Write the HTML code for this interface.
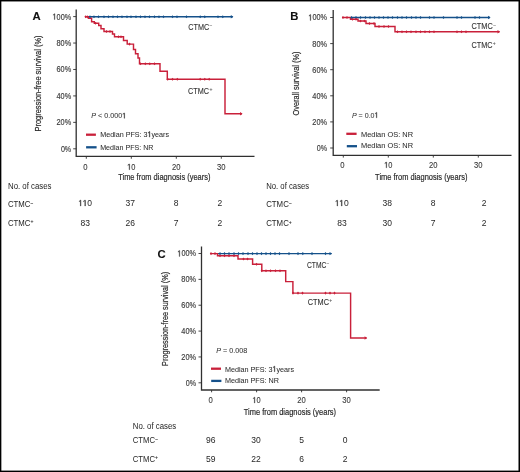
<!DOCTYPE html><html><head><meta charset="utf-8"><style>html,body{margin:0;padding:0;background:#fff;}svg{display:block;will-change:transform;}text{font-family:"Liberation Sans",sans-serif;}.o1{fill-opacity:0;stroke-opacity:0;}</style></head><body>
<svg width="520" height="472" viewBox="0 0 520 472">
<rect x="0" y="0" width="520" height="472" fill="#fff"/>
<text x="32.4" y="20.0" font-size="11.3" stroke-width="0.1" fill="#111" stroke="#111" font-weight="bold" >A</text>
<path d="M76.2,9.5 V156.45 H254.5" fill="none" stroke="#303030" stroke-width="1.3"/>
<line x1="73.2" y1="148.8" x2="76.2" y2="148.8" stroke="#303030" stroke-width="0.9"/>
<text x="71.2" y="151.7" font-size="8.4" stroke-width="0.15" textLength="10.3" lengthAdjust="spacingAndGlyphs" text-anchor="end" fill="#3a3a3a" stroke="#3a3a3a" >0%</text>
<line x1="73.2" y1="122.36000000000001" x2="76.2" y2="122.36000000000001" stroke="#303030" stroke-width="0.9"/>
<text x="71.2" y="125.26" font-size="8.4" stroke-width="0.15" textLength="14.7" lengthAdjust="spacingAndGlyphs" text-anchor="end" fill="#3a3a3a" stroke="#3a3a3a" >20%</text>
<line x1="73.2" y1="95.92" x2="76.2" y2="95.92" stroke="#303030" stroke-width="0.9"/>
<text x="71.2" y="98.82" font-size="8.4" stroke-width="0.15" textLength="14.7" lengthAdjust="spacingAndGlyphs" text-anchor="end" fill="#3a3a3a" stroke="#3a3a3a" >40%</text>
<line x1="73.2" y1="69.47999999999999" x2="76.2" y2="69.47999999999999" stroke="#303030" stroke-width="0.9"/>
<text x="71.2" y="72.38" font-size="8.4" stroke-width="0.15" textLength="14.7" lengthAdjust="spacingAndGlyphs" text-anchor="end" fill="#3a3a3a" stroke="#3a3a3a" >60%</text>
<line x1="73.2" y1="43.03999999999999" x2="76.2" y2="43.03999999999999" stroke="#303030" stroke-width="0.9"/>
<text x="71.2" y="45.94" font-size="8.4" stroke-width="0.15" textLength="14.7" lengthAdjust="spacingAndGlyphs" text-anchor="end" fill="#3a3a3a" stroke="#3a3a3a" >80%</text>
<line x1="73.2" y1="16.599999999999994" x2="76.2" y2="16.599999999999994" stroke="#303030" stroke-width="0.9"/>
<text x="71.2" y="19.5" font-size="8.4" stroke-width="0.15" textLength="18.7" lengthAdjust="spacingAndGlyphs" text-anchor="end" fill="#3a3a3a" stroke="#3a3a3a" ><tspan class="o1">1</tspan>00%</text>
<line x1="86.3" y1="156.45" x2="86.3" y2="158.75" stroke="#303030" stroke-width="0.9"/>
<text x="85.3" y="169.7" font-size="8.4" stroke-width="0.1" textLength="4.3" lengthAdjust="spacingAndGlyphs" text-anchor="middle" fill="#3a3a3a" stroke="#3a3a3a" >0</text>
<line x1="131.3" y1="156.45" x2="131.3" y2="158.75" stroke="#303030" stroke-width="0.9"/>
<text x="131.3" y="169.7" font-size="8.4" stroke-width="0.1" textLength="8.3" lengthAdjust="spacingAndGlyphs" text-anchor="middle" fill="#3a3a3a" stroke="#3a3a3a" ><tspan class="o1">1</tspan>0</text>
<line x1="176.3" y1="156.45" x2="176.3" y2="158.75" stroke="#303030" stroke-width="0.9"/>
<text x="176.3" y="169.7" font-size="8.4" stroke-width="0.1" textLength="8.5" lengthAdjust="spacingAndGlyphs" text-anchor="middle" fill="#3a3a3a" stroke="#3a3a3a" >20</text>
<line x1="221.3" y1="156.45" x2="221.3" y2="158.75" stroke="#303030" stroke-width="0.9"/>
<text x="221.3" y="169.7" font-size="8.4" stroke-width="0.1" textLength="8.5" lengthAdjust="spacingAndGlyphs" text-anchor="middle" fill="#3a3a3a" stroke="#3a3a3a" >30</text>
<text x="118.2" y="180.0" font-size="9.3" stroke-width="0.2" textLength="92.3" lengthAdjust="spacingAndGlyphs" fill="#2a2a2a" stroke="#2a2a2a" >Time from diagnosis (years)</text>
<text transform="translate(41.2,83.5) rotate(-90)" x="0" y="0" font-size="9.8" text-anchor="middle" textLength="96.0" lengthAdjust="spacingAndGlyphs" fill="#2a2a2a" stroke="#2a2a2a" stroke-width="0.2">Progression-free survival (%)</text>
<path d="M88,16.7 H232.8" fill="none" stroke="#15518a" stroke-width="1.4" stroke-linejoin="miter" stroke-linecap="butt"/>
<path d="M85,16.7 H88.4 V18.2 H91.6 V21.7 H94.3 V23.3 H98.7 V25.4 H101 V28.8 H104 V31.5 H112.5 V34 H114.5 V36.8 H123.5 V40.5 H127.2 V44.1 H133.5 V49.5 H135.5 V53.8 H138 V58 H139.5 V63.8 H160 V71.2 H167.3 V79.2 H225 V113.8 H242" fill="none" stroke="#c9203a" stroke-width="1.45" stroke-linejoin="miter" stroke-linecap="butt"/>
<path d="M230.80,15.00 L233.40,16.7 L230.80,18.40 Z" fill="#15518a"/>
<path d="M88.80,16.7 L90,15.15 L91.20,16.7 L90,18.25 Z" fill="#15518a"/>
<path d="M92.80,16.7 L94,15.15 L95.20,16.7 L94,18.25 Z" fill="#15518a"/>
<path d="M97.30,16.7 L98.5,15.15 L99.70,16.7 L98.5,18.25 Z" fill="#15518a"/>
<path d="M102.80,16.7 L104,15.15 L105.20,16.7 L104,18.25 Z" fill="#15518a"/>
<path d="M107.30,16.7 L108.5,15.15 L109.70,16.7 L108.5,18.25 Z" fill="#15518a"/>
<path d="M111.80,16.7 L113,15.15 L114.20,16.7 L113,18.25 Z" fill="#15518a"/>
<path d="M116.30,16.7 L117.5,15.15 L118.70,16.7 L117.5,18.25 Z" fill="#15518a"/>
<path d="M120.80,16.7 L122,15.15 L123.20,16.7 L122,18.25 Z" fill="#15518a"/>
<path d="M125.80,16.7 L127,15.15 L128.20,16.7 L127,18.25 Z" fill="#15518a"/>
<path d="M129.80,16.7 L131,15.15 L132.20,16.7 L131,18.25 Z" fill="#15518a"/>
<path d="M134.80,16.7 L136,15.15 L137.20,16.7 L136,18.25 Z" fill="#15518a"/>
<path d="M139.30,16.7 L140.5,15.15 L141.70,16.7 L140.5,18.25 Z" fill="#15518a"/>
<path d="M143.80,16.7 L145,15.15 L146.20,16.7 L145,18.25 Z" fill="#15518a"/>
<path d="M148.30,16.7 L149.5,15.15 L150.70,16.7 L149.5,18.25 Z" fill="#15518a"/>
<path d="M153.30,16.7 L154.5,15.15 L155.70,16.7 L154.5,18.25 Z" fill="#15518a"/>
<path d="M157.80,16.7 L159,15.15 L160.20,16.7 L159,18.25 Z" fill="#15518a"/>
<path d="M162.30,16.7 L163.5,15.15 L164.70,16.7 L163.5,18.25 Z" fill="#15518a"/>
<path d="M171.30,16.7 L172.5,15.15 L173.70,16.7 L172.5,18.25 Z" fill="#15518a"/>
<path d="M175.80,16.7 L177,15.15 L178.20,16.7 L177,18.25 Z" fill="#15518a"/>
<path d="M185.30,16.7 L186.5,15.15 L187.70,16.7 L186.5,18.25 Z" fill="#15518a"/>
<path d="M199.00,16.7 L200.2,15.15 L201.40,16.7 L200.2,18.25 Z" fill="#15518a"/>
<path d="M203.60,16.7 L204.8,15.15 L206.00,16.7 L204.8,18.25 Z" fill="#15518a"/>
<path d="M216.80,16.7 L218,15.15 L219.20,16.7 L218,18.25 Z" fill="#15518a"/>
<path d="M221.60,16.7 L222.8,15.15 L224.00,16.7 L222.8,18.25 Z" fill="#15518a"/>
<path d="M84.40,16.7 L85.6,15.15 L86.80,16.7 L85.6,18.25 Z" fill="#c9203a"/>
<path d="M86.10,16.7 L87.3,15.15 L88.50,16.7 L87.3,18.25 Z" fill="#c9203a"/>
<path d="M94.30,23.3 L95.5,21.75 L96.70,23.3 L95.5,24.85 Z" fill="#c9203a"/>
<path d="M105.30,31.5 L106.5,29.95 L107.70,31.5 L106.5,33.05 Z" fill="#c9203a"/>
<path d="M108.80,31.5 L110,29.95 L111.20,31.5 L110,33.05 Z" fill="#c9203a"/>
<path d="M117.30,36.8 L118.5,35.25 L119.70,36.8 L118.5,38.35 Z" fill="#c9203a"/>
<path d="M119.80,36.8 L121,35.25 L122.20,36.8 L121,38.35 Z" fill="#c9203a"/>
<path d="M128.30,44.1 L129.5,42.55 L130.70,44.1 L129.5,45.65 Z" fill="#c9203a"/>
<path d="M139.30,63.8 L140.5,62.25 L141.70,63.8 L140.5,65.35 Z" fill="#c9203a"/>
<path d="M144.10,63.8 L145.3,62.25 L146.50,63.8 L145.3,65.35 Z" fill="#c9203a"/>
<path d="M148.60,63.8 L149.8,62.25 L151.00,63.8 L149.8,65.35 Z" fill="#c9203a"/>
<path d="M153.30,63.8 L154.5,62.25 L155.70,63.8 L154.5,65.35 Z" fill="#c9203a"/>
<path d="M166.50,79.2 L167.7,77.65 L168.90,79.2 L167.7,80.75 Z" fill="#c9203a"/>
<path d="M171.30,79.2 L172.5,77.65 L173.70,79.2 L172.5,80.75 Z" fill="#c9203a"/>
<path d="M176.10,79.2 L177.3,77.65 L178.50,79.2 L177.3,80.75 Z" fill="#c9203a"/>
<path d="M199.00,79.2 L200.2,77.65 L201.40,79.2 L200.2,80.75 Z" fill="#c9203a"/>
<path d="M203.60,79.2 L204.8,77.65 L206.00,79.2 L204.8,80.75 Z" fill="#c9203a"/>
<path d="M208.00,79.2 L209.2,77.65 L210.40,79.2 L209.2,80.75 Z" fill="#c9203a"/>
<path d="M240.00,112.10 L242.60,113.8 L240.00,115.50 Z" fill="#c9203a"/>
<text x="188.3" y="30.0" font-size="8.3" stroke-width="0.1" textLength="21.0" lengthAdjust="spacingAndGlyphs" fill="#333" stroke="#333" >CTMC</text>
<text x="209.6" y="27.4" font-size="5.0" stroke-width="0.1" fill="#777" stroke="#777" >&#8722;</text>
<text x="188.0" y="94.0" font-size="8.3" stroke-width="0.1" textLength="21.0" lengthAdjust="spacingAndGlyphs" fill="#333" stroke="#333" >CTMC</text>
<text x="209.4" y="91.4" font-size="5.0" stroke-width="0.1" fill="#555" stroke="#555" >+</text>
<text x="91.2" y="118.3" font-size="7.8" stroke-width="0.05" textLength="35.0" lengthAdjust="spacingAndGlyphs" fill="#333" stroke="#333" ><tspan font-style="italic">P</tspan> &lt; 0.000<tspan class="o1">1</tspan></text>
<line x1="86.0" y1="134.7" x2="95.9" y2="134.7" stroke="#c9203a" stroke-width="2.3"/>
<line x1="86.1" y1="147.3" x2="96.6" y2="147.3" stroke="#15518a" stroke-width="2.3"/>
<text x="100.2" y="137.1" font-size="8.0" stroke-width="0.05" textLength="68.8" lengthAdjust="spacingAndGlyphs" fill="#2e2e2e" stroke="#2e2e2e" >Median PFS: 3<tspan class="o1">1</tspan>years</text>
<text x="100.2" y="149.7" font-size="8.0" stroke-width="0.05" textLength="53.3" lengthAdjust="spacingAndGlyphs" fill="#2e2e2e" stroke="#2e2e2e" >Median PFS: NR</text>
<text x="8.0" y="189.3" font-size="8.2" stroke-width="0.02" textLength="43.5" lengthAdjust="spacingAndGlyphs" fill="#2a2a2a" stroke="#2a2a2a" >No. of cases</text>
<text x="8.0" y="206.8" font-size="8.2" stroke-width="0.02" textLength="22.4" lengthAdjust="spacingAndGlyphs" fill="#2a2a2a" stroke="#2a2a2a" >CTMC</text>
<text x="30.6" y="204.6" font-size="5.0" stroke-width="0.1" fill="#222" stroke="#222" >&#8722;</text>
<text x="8.0" y="226.0" font-size="8.2" stroke-width="0.02" textLength="22.4" lengthAdjust="spacingAndGlyphs" fill="#2a2a2a" stroke="#2a2a2a" >CTMC</text>
<text x="30.4" y="223.4" font-size="5.0" stroke-width="0.1" fill="#222" stroke="#222" >+</text>
<text x="85.3" y="206.0" font-size="8.5" stroke-width="0.02" text-anchor="middle" fill="#2a2a2a" stroke="#2a2a2a" ><tspan class="o1">1</tspan><tspan class="o1">1</tspan>0</text>
<text x="85.3" y="225.5" font-size="8.5" stroke-width="0.02" text-anchor="middle" fill="#2a2a2a" stroke="#2a2a2a" >83</text>
<text x="130.3" y="206.0" font-size="8.5" stroke-width="0.02" text-anchor="middle" fill="#2a2a2a" stroke="#2a2a2a" >37</text>
<text x="130.3" y="225.5" font-size="8.5" stroke-width="0.02" text-anchor="middle" fill="#2a2a2a" stroke="#2a2a2a" >26</text>
<text x="176.0" y="206.0" font-size="8.5" stroke-width="0.02" text-anchor="middle" fill="#2a2a2a" stroke="#2a2a2a" >8</text>
<text x="176.0" y="225.5" font-size="8.5" stroke-width="0.02" text-anchor="middle" fill="#2a2a2a" stroke="#2a2a2a" >7</text>
<text x="219.9" y="206.0" font-size="8.5" stroke-width="0.02" text-anchor="middle" fill="#2a2a2a" stroke="#2a2a2a" >2</text>
<text x="219.9" y="225.5" font-size="8.5" stroke-width="0.02" text-anchor="middle" fill="#2a2a2a" stroke="#2a2a2a" >2</text>
<text x="290.3" y="19.5" font-size="11.3" stroke-width="0.1" fill="#111" stroke="#111" font-weight="bold" >B</text>
<path d="M333.2,10.0 V155.3 H511.5" fill="none" stroke="#303030" stroke-width="1.3"/>
<line x1="330.2" y1="148.0" x2="333.2" y2="148.0" stroke="#303030" stroke-width="0.9"/>
<text x="327.0" y="150.9" font-size="8.4" stroke-width="0.15" textLength="10.3" lengthAdjust="spacingAndGlyphs" text-anchor="end" fill="#3a3a3a" stroke="#3a3a3a" >0%</text>
<line x1="330.2" y1="121.9" x2="333.2" y2="121.9" stroke="#303030" stroke-width="0.9"/>
<text x="327.0" y="124.8" font-size="8.4" stroke-width="0.15" textLength="14.7" lengthAdjust="spacingAndGlyphs" text-anchor="end" fill="#3a3a3a" stroke="#3a3a3a" >20%</text>
<line x1="330.2" y1="95.8" x2="333.2" y2="95.8" stroke="#303030" stroke-width="0.9"/>
<text x="327.0" y="98.7" font-size="8.4" stroke-width="0.15" textLength="14.7" lengthAdjust="spacingAndGlyphs" text-anchor="end" fill="#3a3a3a" stroke="#3a3a3a" >40%</text>
<line x1="330.2" y1="69.69999999999999" x2="333.2" y2="69.69999999999999" stroke="#303030" stroke-width="0.9"/>
<text x="327.0" y="72.6" font-size="8.4" stroke-width="0.15" textLength="14.7" lengthAdjust="spacingAndGlyphs" text-anchor="end" fill="#3a3a3a" stroke="#3a3a3a" >60%</text>
<line x1="330.2" y1="43.599999999999994" x2="333.2" y2="43.599999999999994" stroke="#303030" stroke-width="0.9"/>
<text x="327.0" y="46.5" font-size="8.4" stroke-width="0.15" textLength="14.7" lengthAdjust="spacingAndGlyphs" text-anchor="end" fill="#3a3a3a" stroke="#3a3a3a" >80%</text>
<line x1="330.2" y1="17.5" x2="333.2" y2="17.5" stroke="#303030" stroke-width="0.9"/>
<text x="327.0" y="20.4" font-size="8.4" stroke-width="0.15" textLength="18.7" lengthAdjust="spacingAndGlyphs" text-anchor="end" fill="#3a3a3a" stroke="#3a3a3a" ><tspan class="o1">1</tspan>00%</text>
<line x1="343.3" y1="155.3" x2="343.3" y2="157.60000000000002" stroke="#303030" stroke-width="0.9"/>
<text x="342.3" y="167.8" font-size="8.4" stroke-width="0.1" textLength="4.3" lengthAdjust="spacingAndGlyphs" text-anchor="middle" fill="#3a3a3a" stroke="#3a3a3a" >0</text>
<line x1="388.3" y1="155.3" x2="388.3" y2="157.60000000000002" stroke="#303030" stroke-width="0.9"/>
<text x="388.3" y="167.8" font-size="8.4" stroke-width="0.1" textLength="8.3" lengthAdjust="spacingAndGlyphs" text-anchor="middle" fill="#3a3a3a" stroke="#3a3a3a" ><tspan class="o1">1</tspan>0</text>
<line x1="433.3" y1="155.3" x2="433.3" y2="157.60000000000002" stroke="#303030" stroke-width="0.9"/>
<text x="433.3" y="167.8" font-size="8.4" stroke-width="0.1" textLength="8.5" lengthAdjust="spacingAndGlyphs" text-anchor="middle" fill="#3a3a3a" stroke="#3a3a3a" >20</text>
<line x1="478.3" y1="155.3" x2="478.3" y2="157.60000000000002" stroke="#303030" stroke-width="0.9"/>
<text x="478.3" y="167.8" font-size="8.4" stroke-width="0.1" textLength="8.5" lengthAdjust="spacingAndGlyphs" text-anchor="middle" fill="#3a3a3a" stroke="#3a3a3a" >30</text>
<text x="375.1" y="180.3" font-size="9.3" stroke-width="0.2" textLength="92.3" lengthAdjust="spacingAndGlyphs" fill="#2a2a2a" stroke="#2a2a2a" >Time from diagnosis (years)</text>
<text transform="translate(298.7,83.5) rotate(-90)" x="0" y="0" font-size="9.8" text-anchor="middle" textLength="64.0" lengthAdjust="spacingAndGlyphs" fill="#2a2a2a" stroke="#2a2a2a" stroke-width="0.2">Overall survival (%)</text>
<path d="M351,17.5 H490" fill="none" stroke="#15518a" stroke-width="1.4" stroke-linejoin="miter" stroke-linecap="butt"/>
<path d="M342,17.5 H350.5 V19.2 H358 V21 H366 V23.5 H375 V26.5 H395 V31.7 H499.5" fill="none" stroke="#c9203a" stroke-width="1.45" stroke-linejoin="miter" stroke-linecap="butt"/>
<path d="M488.00,15.80 L490.60,17.5 L488.00,19.20 Z" fill="#15518a"/>
<path d="M350.30,17.5 L351.5,15.95 L352.70,17.5 L351.5,19.05 Z" fill="#15518a"/>
<path d="M354.80,17.5 L356,15.95 L357.20,17.5 L356,19.05 Z" fill="#15518a"/>
<path d="M359.30,17.5 L360.5,15.95 L361.70,17.5 L360.5,19.05 Z" fill="#15518a"/>
<path d="M364.30,17.5 L365.5,15.95 L366.70,17.5 L365.5,19.05 Z" fill="#15518a"/>
<path d="M368.80,17.5 L370,15.95 L371.20,17.5 L370,19.05 Z" fill="#15518a"/>
<path d="M373.30,17.5 L374.5,15.95 L375.70,17.5 L374.5,19.05 Z" fill="#15518a"/>
<path d="M377.80,17.5 L379,15.95 L380.20,17.5 L379,19.05 Z" fill="#15518a"/>
<path d="M382.30,17.5 L383.5,15.95 L384.70,17.5 L383.5,19.05 Z" fill="#15518a"/>
<path d="M386.80,17.5 L388,15.95 L389.20,17.5 L388,19.05 Z" fill="#15518a"/>
<path d="M391.30,17.5 L392.5,15.95 L393.70,17.5 L392.5,19.05 Z" fill="#15518a"/>
<path d="M396.30,17.5 L397.5,15.95 L398.70,17.5 L397.5,19.05 Z" fill="#15518a"/>
<path d="M400.80,17.5 L402,15.95 L403.20,17.5 L402,19.05 Z" fill="#15518a"/>
<path d="M405.30,17.5 L406.5,15.95 L407.70,17.5 L406.5,19.05 Z" fill="#15518a"/>
<path d="M410.30,17.5 L411.5,15.95 L412.70,17.5 L411.5,19.05 Z" fill="#15518a"/>
<path d="M414.80,17.5 L416,15.95 L417.20,17.5 L416,19.05 Z" fill="#15518a"/>
<path d="M419.30,17.5 L420.5,15.95 L421.70,17.5 L420.5,19.05 Z" fill="#15518a"/>
<path d="M428.30,17.5 L429.5,15.95 L430.70,17.5 L429.5,19.05 Z" fill="#15518a"/>
<path d="M432.80,17.5 L434,15.95 L435.20,17.5 L434,19.05 Z" fill="#15518a"/>
<path d="M442.30,17.5 L443.5,15.95 L444.70,17.5 L443.5,19.05 Z" fill="#15518a"/>
<path d="M455.80,17.5 L457,15.95 L458.20,17.5 L457,19.05 Z" fill="#15518a"/>
<path d="M460.30,17.5 L461.5,15.95 L462.70,17.5 L461.5,19.05 Z" fill="#15518a"/>
<path d="M473.80,17.5 L475,15.95 L476.20,17.5 L475,19.05 Z" fill="#15518a"/>
<path d="M478.30,17.5 L479.5,15.95 L480.70,17.5 L479.5,19.05 Z" fill="#15518a"/>
<path d="M341.80,17.5 L343,15.95 L344.20,17.5 L343,19.05 Z" fill="#c9203a"/>
<path d="M345.80,17.5 L347,15.95 L348.20,17.5 L347,19.05 Z" fill="#c9203a"/>
<path d="M351.30,19.2 L352.5,17.65 L353.70,19.2 L352.5,20.75 Z" fill="#c9203a"/>
<path d="M354.80,19.2 L356,17.65 L357.20,19.2 L356,20.75 Z" fill="#c9203a"/>
<path d="M359.30,21 L360.5,19.45 L361.70,21 L360.5,22.55 Z" fill="#c9203a"/>
<path d="M363.30,21 L364.5,19.45 L365.70,21 L364.5,22.55 Z" fill="#c9203a"/>
<path d="M368.30,23.5 L369.5,21.95 L370.70,23.5 L369.5,25.05 Z" fill="#c9203a"/>
<path d="M372.80,23.5 L374,21.95 L375.20,23.5 L374,25.05 Z" fill="#c9203a"/>
<path d="M377.80,26.5 L379,24.95 L380.20,26.5 L379,28.05 Z" fill="#c9203a"/>
<path d="M382.80,26.5 L384,24.95 L385.20,26.5 L384,28.05 Z" fill="#c9203a"/>
<path d="M387.30,26.5 L388.5,24.95 L389.70,26.5 L388.5,28.05 Z" fill="#c9203a"/>
<path d="M396.30,31.7 L397.5,30.15 L398.70,31.7 L397.5,33.25 Z" fill="#c9203a"/>
<path d="M400.80,31.7 L402,30.15 L403.20,31.7 L402,33.25 Z" fill="#c9203a"/>
<path d="M405.30,31.7 L406.5,30.15 L407.70,31.7 L406.5,33.25 Z" fill="#c9203a"/>
<path d="M409.80,31.7 L411,30.15 L412.20,31.7 L411,33.25 Z" fill="#c9203a"/>
<path d="M414.80,31.7 L416,30.15 L417.20,31.7 L416,33.25 Z" fill="#c9203a"/>
<path d="M419.30,31.7 L420.5,30.15 L421.70,31.7 L420.5,33.25 Z" fill="#c9203a"/>
<path d="M423.80,31.7 L425,30.15 L426.20,31.7 L425,33.25 Z" fill="#c9203a"/>
<path d="M428.30,31.7 L429.5,30.15 L430.70,31.7 L429.5,33.25 Z" fill="#c9203a"/>
<path d="M432.80,31.7 L434,30.15 L435.20,31.7 L434,33.25 Z" fill="#c9203a"/>
<path d="M455.80,31.7 L457,30.15 L458.20,31.7 L457,33.25 Z" fill="#c9203a"/>
<path d="M460.30,31.7 L461.5,30.15 L462.70,31.7 L461.5,33.25 Z" fill="#c9203a"/>
<path d="M464.80,31.7 L466,30.15 L467.20,31.7 L466,33.25 Z" fill="#c9203a"/>
<path d="M497.50,30.00 L500.10,31.7 L497.50,33.40 Z" fill="#c9203a"/>
<text x="471.5" y="29.2" font-size="8.3" stroke-width="0.1" textLength="21.3" lengthAdjust="spacingAndGlyphs" fill="#333" stroke="#333" >CTMC</text>
<text x="493.2" y="26.6" font-size="5.0" stroke-width="0.1" fill="#777" stroke="#777" >&#8722;</text>
<text x="471.5" y="48.0" font-size="8.3" stroke-width="0.1" textLength="21.0" lengthAdjust="spacingAndGlyphs" fill="#333" stroke="#333" >CTMC</text>
<text x="492.8" y="45.4" font-size="5.0" stroke-width="0.1" fill="#555" stroke="#555" >+</text>
<text x="351.9" y="117.8" font-size="7.8" stroke-width="0.05" textLength="26.6" lengthAdjust="spacingAndGlyphs" fill="#333" stroke="#333" ><tspan font-style="italic">P</tspan> = 0.0<tspan class="o1">1</tspan></text>
<line x1="346.3" y1="133.8" x2="356.6" y2="133.8" stroke="#c9203a" stroke-width="2.3"/>
<line x1="346.8" y1="146.2" x2="357.0" y2="146.2" stroke="#15518a" stroke-width="2.3"/>
<text x="361.0" y="136.7" font-size="8.0" stroke-width="0.05" textLength="52.0" lengthAdjust="spacingAndGlyphs" fill="#2e2e2e" stroke="#2e2e2e" >Median OS: NR</text>
<text x="361.0" y="148.3" font-size="8.0" stroke-width="0.05" textLength="52.0" lengthAdjust="spacingAndGlyphs" fill="#2e2e2e" stroke="#2e2e2e" >Median OS: NR</text>
<text x="266.2" y="189.3" font-size="8.2" stroke-width="0.02" textLength="43.0" lengthAdjust="spacingAndGlyphs" fill="#2a2a2a" stroke="#2a2a2a" >No. of cases</text>
<text x="266.2" y="207.0" font-size="8.2" stroke-width="0.02" textLength="22.6" lengthAdjust="spacingAndGlyphs" fill="#2a2a2a" stroke="#2a2a2a" >CTMC</text>
<text x="289.0" y="204.8" font-size="5.0" stroke-width="0.1" fill="#222" stroke="#222" >&#8722;</text>
<text x="266.2" y="226.2" font-size="8.2" stroke-width="0.02" textLength="22.6" lengthAdjust="spacingAndGlyphs" fill="#2a2a2a" stroke="#2a2a2a" >CTMC</text>
<text x="288.8" y="223.6" font-size="5.0" stroke-width="0.1" fill="#222" stroke="#222" >+</text>
<text x="341.9" y="206.0" font-size="8.5" stroke-width="0.02" text-anchor="middle" fill="#2a2a2a" stroke="#2a2a2a" ><tspan class="o1">1</tspan><tspan class="o1">1</tspan>0</text>
<text x="341.9" y="225.5" font-size="8.5" stroke-width="0.02" text-anchor="middle" fill="#2a2a2a" stroke="#2a2a2a" >83</text>
<text x="387.3" y="206.0" font-size="8.5" stroke-width="0.02" text-anchor="middle" fill="#2a2a2a" stroke="#2a2a2a" >38</text>
<text x="387.3" y="225.5" font-size="8.5" stroke-width="0.02" text-anchor="middle" fill="#2a2a2a" stroke="#2a2a2a" >30</text>
<text x="433.0" y="206.0" font-size="8.5" stroke-width="0.02" text-anchor="middle" fill="#2a2a2a" stroke="#2a2a2a" >8</text>
<text x="433.0" y="225.5" font-size="8.5" stroke-width="0.02" text-anchor="middle" fill="#2a2a2a" stroke="#2a2a2a" >7</text>
<text x="484.0" y="206.0" font-size="8.5" stroke-width="0.02" text-anchor="middle" fill="#2a2a2a" stroke="#2a2a2a" >2</text>
<text x="484.0" y="225.5" font-size="8.5" stroke-width="0.02" text-anchor="middle" fill="#2a2a2a" stroke="#2a2a2a" >2</text>
<text x="157.6" y="258.0" font-size="11.3" stroke-width="0.1" fill="#111" stroke="#111" font-weight="bold" >C</text>
<path d="M201.5,246.5 V390.0 H379.7" fill="none" stroke="#303030" stroke-width="1.3"/>
<line x1="198.5" y1="382.8" x2="201.5" y2="382.8" stroke="#303030" stroke-width="0.9"/>
<text x="196.0" y="385.7" font-size="8.4" stroke-width="0.15" textLength="10.3" lengthAdjust="spacingAndGlyphs" text-anchor="end" fill="#3a3a3a" stroke="#3a3a3a" >0%</text>
<line x1="198.5" y1="356.94" x2="201.5" y2="356.94" stroke="#303030" stroke-width="0.9"/>
<text x="196.0" y="359.84" font-size="8.4" stroke-width="0.15" textLength="14.7" lengthAdjust="spacingAndGlyphs" text-anchor="end" fill="#3a3a3a" stroke="#3a3a3a" >20%</text>
<line x1="198.5" y1="331.08" x2="201.5" y2="331.08" stroke="#303030" stroke-width="0.9"/>
<text x="196.0" y="333.98" font-size="8.4" stroke-width="0.15" textLength="14.7" lengthAdjust="spacingAndGlyphs" text-anchor="end" fill="#3a3a3a" stroke="#3a3a3a" >40%</text>
<line x1="198.5" y1="305.22" x2="201.5" y2="305.22" stroke="#303030" stroke-width="0.9"/>
<text x="196.0" y="308.12" font-size="8.4" stroke-width="0.15" textLength="14.7" lengthAdjust="spacingAndGlyphs" text-anchor="end" fill="#3a3a3a" stroke="#3a3a3a" >60%</text>
<line x1="198.5" y1="279.36" x2="201.5" y2="279.36" stroke="#303030" stroke-width="0.9"/>
<text x="196.0" y="282.26" font-size="8.4" stroke-width="0.15" textLength="14.7" lengthAdjust="spacingAndGlyphs" text-anchor="end" fill="#3a3a3a" stroke="#3a3a3a" >80%</text>
<line x1="198.5" y1="253.5" x2="201.5" y2="253.5" stroke="#303030" stroke-width="0.9"/>
<text x="196.0" y="256.4" font-size="8.4" stroke-width="0.15" textLength="18.7" lengthAdjust="spacingAndGlyphs" text-anchor="end" fill="#3a3a3a" stroke="#3a3a3a" ><tspan class="o1">1</tspan>00%</text>
<line x1="211.6" y1="390.0" x2="211.6" y2="392.3" stroke="#303030" stroke-width="0.9"/>
<text x="210.6" y="403.0" font-size="8.4" stroke-width="0.1" textLength="4.3" lengthAdjust="spacingAndGlyphs" text-anchor="middle" fill="#3a3a3a" stroke="#3a3a3a" >0</text>
<line x1="256.6" y1="390.0" x2="256.6" y2="392.3" stroke="#303030" stroke-width="0.9"/>
<text x="256.6" y="403.0" font-size="8.4" stroke-width="0.1" textLength="8.3" lengthAdjust="spacingAndGlyphs" text-anchor="middle" fill="#3a3a3a" stroke="#3a3a3a" ><tspan class="o1">1</tspan>0</text>
<line x1="301.6" y1="390.0" x2="301.6" y2="392.3" stroke="#303030" stroke-width="0.9"/>
<text x="301.6" y="403.0" font-size="8.4" stroke-width="0.1" textLength="8.5" lengthAdjust="spacingAndGlyphs" text-anchor="middle" fill="#3a3a3a" stroke="#3a3a3a" >20</text>
<line x1="346.6" y1="390.0" x2="346.6" y2="392.3" stroke="#303030" stroke-width="0.9"/>
<text x="346.6" y="403.0" font-size="8.4" stroke-width="0.1" textLength="8.5" lengthAdjust="spacingAndGlyphs" text-anchor="middle" fill="#3a3a3a" stroke="#3a3a3a" >30</text>
<text x="243.8" y="415.0" font-size="9.3" stroke-width="0.2" textLength="92.3" lengthAdjust="spacingAndGlyphs" fill="#2a2a2a" stroke="#2a2a2a" >Time from diagnosis (years)</text>
<text transform="translate(168.2,318.9) rotate(-90)" x="0" y="0" font-size="9.8" text-anchor="middle" textLength="94.0" lengthAdjust="spacingAndGlyphs" fill="#2a2a2a" stroke="#2a2a2a" stroke-width="0.2">Progression-free survival (%)</text>
<path d="M218,253.6 H331.5" fill="none" stroke="#15518a" stroke-width="1.4" stroke-linejoin="miter" stroke-linecap="butt"/>
<path d="M210.5,253.6 H217.5 V255.8 H238 V259 H252.6 V264.2 H261.8 V270.8 H285.7 V281.6 H292.9 V293.1 H350.6 V338 H366.6" fill="none" stroke="#c9203a" stroke-width="1.45" stroke-linejoin="miter" stroke-linecap="butt"/>
<path d="M329.50,251.90 L332.10,253.6 L329.50,255.30 Z" fill="#15518a"/>
<path d="M218.80,253.6 L220,252.05 L221.20,253.6 L220,255.15 Z" fill="#15518a"/>
<path d="M223.30,253.6 L224.5,252.05 L225.70,253.6 L224.5,255.15 Z" fill="#15518a"/>
<path d="M227.80,253.6 L229,252.05 L230.20,253.6 L229,255.15 Z" fill="#15518a"/>
<path d="M232.80,253.6 L234,252.05 L235.20,253.6 L234,255.15 Z" fill="#15518a"/>
<path d="M237.30,253.6 L238.5,252.05 L239.70,253.6 L238.5,255.15 Z" fill="#15518a"/>
<path d="M241.80,253.6 L243,252.05 L244.20,253.6 L243,255.15 Z" fill="#15518a"/>
<path d="M246.80,253.6 L248,252.05 L249.20,253.6 L248,255.15 Z" fill="#15518a"/>
<path d="M251.30,253.6 L252.5,252.05 L253.70,253.6 L252.5,255.15 Z" fill="#15518a"/>
<path d="M255.80,253.6 L257,252.05 L258.20,253.6 L257,255.15 Z" fill="#15518a"/>
<path d="M260.30,253.6 L261.5,252.05 L262.70,253.6 L261.5,255.15 Z" fill="#15518a"/>
<path d="M264.80,253.6 L266,252.05 L267.20,253.6 L266,255.15 Z" fill="#15518a"/>
<path d="M269.30,253.6 L270.5,252.05 L271.70,253.6 L270.5,255.15 Z" fill="#15518a"/>
<path d="M273.80,253.6 L275,252.05 L276.20,253.6 L275,255.15 Z" fill="#15518a"/>
<path d="M278.30,253.6 L279.5,252.05 L280.70,253.6 L279.5,255.15 Z" fill="#15518a"/>
<path d="M287.80,253.6 L289,252.05 L290.20,253.6 L289,255.15 Z" fill="#15518a"/>
<path d="M296.80,253.6 L298,252.05 L299.20,253.6 L298,255.15 Z" fill="#15518a"/>
<path d="M301.60,253.6 L302.8,252.05 L304.00,253.6 L302.8,255.15 Z" fill="#15518a"/>
<path d="M310.80,253.6 L312,252.05 L313.20,253.6 L312,255.15 Z" fill="#15518a"/>
<path d="M324.30,253.6 L325.5,252.05 L326.70,253.6 L325.5,255.15 Z" fill="#15518a"/>
<path d="M209.80,253.6 L211,252.05 L212.20,253.6 L211,255.15 Z" fill="#c9203a"/>
<path d="M213.80,253.6 L215,252.05 L216.20,253.6 L215,255.15 Z" fill="#c9203a"/>
<path d="M218.80,255.8 L220,254.25 L221.20,255.8 L220,257.35 Z" fill="#c9203a"/>
<path d="M223.30,255.8 L224.5,254.25 L225.70,255.8 L224.5,257.35 Z" fill="#c9203a"/>
<path d="M227.80,255.8 L229,254.25 L230.20,255.8 L229,257.35 Z" fill="#c9203a"/>
<path d="M232.80,255.8 L234,254.25 L235.20,255.8 L234,257.35 Z" fill="#c9203a"/>
<path d="M242.30,259 L243.5,257.45 L244.70,259 L243.5,260.55 Z" fill="#c9203a"/>
<path d="M246.30,259 L247.5,257.45 L248.70,259 L247.5,260.55 Z" fill="#c9203a"/>
<path d="M255.30,264.2 L256.5,262.65 L257.70,264.2 L256.5,265.75 Z" fill="#c9203a"/>
<path d="M260.60,270.8 L261.8,269.25 L263.00,270.8 L261.8,272.35 Z" fill="#c9203a"/>
<path d="M264.80,270.8 L266,269.25 L267.20,270.8 L266,272.35 Z" fill="#c9203a"/>
<path d="M269.30,270.8 L270.5,269.25 L271.70,270.8 L270.5,272.35 Z" fill="#c9203a"/>
<path d="M274.30,270.8 L275.5,269.25 L276.70,270.8 L275.5,272.35 Z" fill="#c9203a"/>
<path d="M278.80,270.8 L280,269.25 L281.20,270.8 L280,272.35 Z" fill="#c9203a"/>
<path d="M291.80,293.1 L293,291.55 L294.20,293.1 L293,294.65 Z" fill="#c9203a"/>
<path d="M296.80,293.1 L298,291.55 L299.20,293.1 L298,294.65 Z" fill="#c9203a"/>
<path d="M301.30,293.1 L302.5,291.55 L303.70,293.1 L302.5,294.65 Z" fill="#c9203a"/>
<path d="M324.30,293.1 L325.5,291.55 L326.70,293.1 L325.5,294.65 Z" fill="#c9203a"/>
<path d="M328.80,293.1 L330,291.55 L331.20,293.1 L330,294.65 Z" fill="#c9203a"/>
<path d="M333.30,293.1 L334.5,291.55 L335.70,293.1 L334.5,294.65 Z" fill="#c9203a"/>
<path d="M364.60,336.30 L367.20,338 L364.60,339.70 Z" fill="#c9203a"/>
<text x="307.0" y="267.5" font-size="8.3" stroke-width="0.1" textLength="19.3" lengthAdjust="spacingAndGlyphs" fill="#333" stroke="#333" >CTMC</text>
<text x="326.4" y="264.9" font-size="5.0" stroke-width="0.1" fill="#777" stroke="#777" >&#8722;</text>
<text x="307.8" y="304.5" font-size="8.3" stroke-width="0.1" textLength="21.2" lengthAdjust="spacingAndGlyphs" fill="#333" stroke="#333" >CTMC</text>
<text x="329.2" y="301.9" font-size="5.0" stroke-width="0.1" fill="#555" stroke="#555" >+</text>
<text x="216.2" y="353.2" font-size="7.8" stroke-width="0.05" textLength="31.2" lengthAdjust="spacingAndGlyphs" fill="#333" stroke="#333" ><tspan font-style="italic">P</tspan> = 0.008</text>
<line x1="211.0" y1="368.7" x2="221.0" y2="368.7" stroke="#c9203a" stroke-width="2.3"/>
<line x1="211.2" y1="380.9" x2="221.4" y2="380.9" stroke="#15518a" stroke-width="2.3"/>
<text x="224.9" y="371.7" font-size="8.0" stroke-width="0.05" textLength="69.2" lengthAdjust="spacingAndGlyphs" fill="#2e2e2e" stroke="#2e2e2e" >Median PFS: 3<tspan class="o1">1</tspan>years</text>
<text x="224.9" y="383.4" font-size="8.0" stroke-width="0.05" textLength="54.1" lengthAdjust="spacingAndGlyphs" fill="#2e2e2e" stroke="#2e2e2e" >Median PFS: NR</text>
<text x="132.8" y="428.6" font-size="8.2" stroke-width="0.02" textLength="43.4" lengthAdjust="spacingAndGlyphs" fill="#2a2a2a" stroke="#2a2a2a" >No. of cases</text>
<text x="132.8" y="443.0" font-size="8.2" stroke-width="0.02" textLength="22.2" lengthAdjust="spacingAndGlyphs" fill="#2a2a2a" stroke="#2a2a2a" >CTMC</text>
<text x="155.3" y="440.8" font-size="5.0" stroke-width="0.1" fill="#222" stroke="#222" >&#8722;</text>
<text x="132.8" y="462.0" font-size="8.2" stroke-width="0.02" textLength="22.2" lengthAdjust="spacingAndGlyphs" fill="#2a2a2a" stroke="#2a2a2a" >CTMC</text>
<text x="155.1" y="459.4" font-size="5.0" stroke-width="0.1" fill="#222" stroke="#222" >+</text>
<text x="210.75" y="443.0" font-size="8.5" stroke-width="0.02" text-anchor="middle" fill="#2a2a2a" stroke="#2a2a2a" >96</text>
<text x="210.75" y="462.0" font-size="8.5" stroke-width="0.02" text-anchor="middle" fill="#2a2a2a" stroke="#2a2a2a" >59</text>
<text x="256.0" y="443.0" font-size="8.5" stroke-width="0.02" text-anchor="middle" fill="#2a2a2a" stroke="#2a2a2a" >30</text>
<text x="256.0" y="462.0" font-size="8.5" stroke-width="0.02" text-anchor="middle" fill="#2a2a2a" stroke="#2a2a2a" >22</text>
<text x="301.5" y="443.0" font-size="8.5" stroke-width="0.02" text-anchor="middle" fill="#2a2a2a" stroke="#2a2a2a" >5</text>
<text x="301.5" y="462.0" font-size="8.5" stroke-width="0.02" text-anchor="middle" fill="#2a2a2a" stroke="#2a2a2a" >6</text>
<text x="345.1" y="443.0" font-size="8.5" stroke-width="0.02" text-anchor="middle" fill="#2a2a2a" stroke="#2a2a2a" >0</text>
<text x="345.1" y="462.0" font-size="8.5" stroke-width="0.02" text-anchor="middle" fill="#2a2a2a" stroke="#2a2a2a" >2</text>
<rect x="0" y="0" width="520" height="1.45" fill="#000"/>
<rect x="0" y="0" width="1.35" height="472" fill="#000"/>
<rect x="518.5" y="0" width="1.5" height="472" fill="#000"/>
<rect x="0" y="470.6" width="520" height="1.4" fill="#000"/>
<path transform="translate(52.500,19.500) scale(0.003578,-0.004102)" d="M515,0 V1237 L197,1010 V1180 L530,1409 H696 V0 Z" fill="#3a3a3a" stroke="#3a3a3a" stroke-width="0.3" vector-effect="non-scaling-stroke"/>
<path transform="translate(127.150,169.700) scale(0.003644,-0.004102)" d="M515,0 V1237 L197,1010 V1180 L530,1409 H696 V0 Z" fill="#3a3a3a" stroke="#3a3a3a" stroke-width="0.3" vector-effect="non-scaling-stroke"/>
<path transform="translate(122.194,118.300) scale(0.003517,-0.003809)" d="M515,0 V1237 L197,1010 V1180 L530,1409 H696 V0 Z" fill="#333" stroke="#333" stroke-width="0.3" vector-effect="non-scaling-stroke"/>
<path transform="translate(147.524,137.100) scale(0.003496,-0.003906)" d="M515,0 V1237 L197,1010 V1180 L530,1409 H696 V0 Z" fill="#2e2e2e" stroke="#2e2e2e" stroke-width="0.3" vector-effect="non-scaling-stroke"/>
<path transform="translate(78.511,206.000) scale(0.003608,-0.004150)" d="M515,0 V1237 L197,1010 V1180 L530,1409 H696 V0 Z" fill="#2a2a2a" stroke="#2a2a2a" stroke-width="0.3" vector-effect="non-scaling-stroke"/>
<path transform="translate(82.620,206.000) scale(0.004157,-0.004150)" d="M515,0 V1237 L197,1010 V1180 L530,1409 H696 V0 Z" fill="#2a2a2a" stroke="#2a2a2a" stroke-width="0.3" vector-effect="non-scaling-stroke"/>
<path transform="translate(308.300,20.400) scale(0.003578,-0.004102)" d="M515,0 V1237 L197,1010 V1180 L530,1409 H696 V0 Z" fill="#3a3a3a" stroke="#3a3a3a" stroke-width="0.3" vector-effect="non-scaling-stroke"/>
<path transform="translate(384.150,167.800) scale(0.003644,-0.004102)" d="M515,0 V1237 L197,1010 V1180 L530,1409 H696 V0 Z" fill="#3a3a3a" stroke="#3a3a3a" stroke-width="0.3" vector-effect="non-scaling-stroke"/>
<path transform="translate(374.554,117.800) scale(0.003464,-0.003809)" d="M515,0 V1237 L197,1010 V1180 L530,1409 H696 V0 Z" fill="#333" stroke="#333" stroke-width="0.3" vector-effect="non-scaling-stroke"/>
<path transform="translate(335.111,206.000) scale(0.003608,-0.004150)" d="M515,0 V1237 L197,1010 V1180 L530,1409 H696 V0 Z" fill="#2a2a2a" stroke="#2a2a2a" stroke-width="0.3" vector-effect="non-scaling-stroke"/>
<path transform="translate(339.220,206.000) scale(0.004157,-0.004150)" d="M515,0 V1237 L197,1010 V1180 L530,1409 H696 V0 Z" fill="#2a2a2a" stroke="#2a2a2a" stroke-width="0.3" vector-effect="non-scaling-stroke"/>
<path transform="translate(177.300,256.400) scale(0.003578,-0.004102)" d="M515,0 V1237 L197,1010 V1180 L530,1409 H696 V0 Z" fill="#3a3a3a" stroke="#3a3a3a" stroke-width="0.3" vector-effect="non-scaling-stroke"/>
<path transform="translate(252.450,403.000) scale(0.003644,-0.004102)" d="M515,0 V1237 L197,1010 V1180 L530,1409 H696 V0 Z" fill="#3a3a3a" stroke="#3a3a3a" stroke-width="0.3" vector-effect="non-scaling-stroke"/>
<path transform="translate(272.500,371.700) scale(0.003516,-0.003906)" d="M515,0 V1237 L197,1010 V1180 L530,1409 H696 V0 Z" fill="#2e2e2e" stroke="#2e2e2e" stroke-width="0.3" vector-effect="non-scaling-stroke"/>
</svg></body></html>
